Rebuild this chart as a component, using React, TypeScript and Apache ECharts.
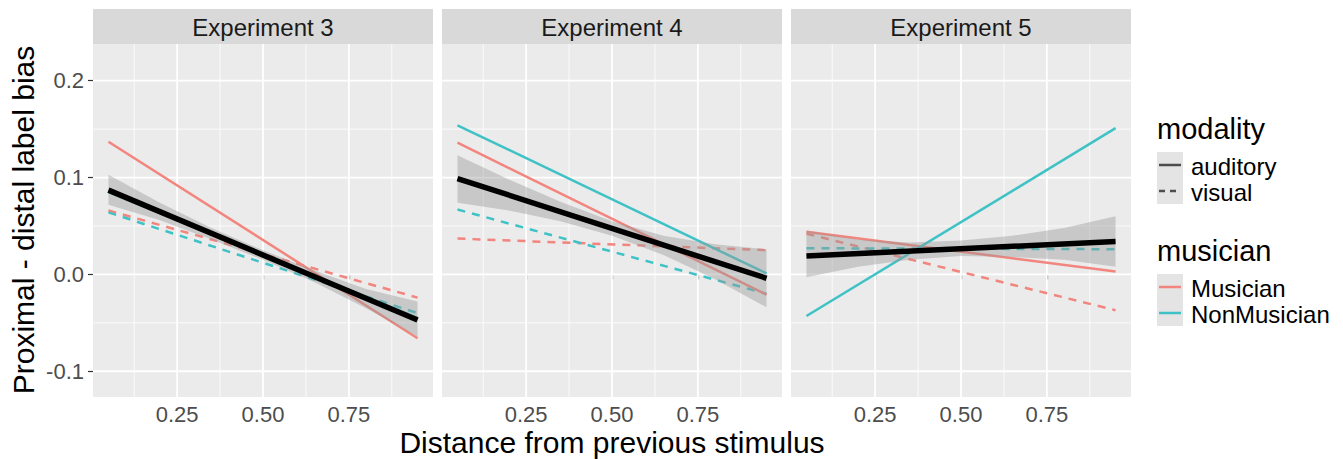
import React, { useEffect, useRef } from "react";
import * as echarts from "echarts";

const panelTitles = ["Experiment 3", "Experiment 4", "Experiment 5"];
const xTicks = [0.25, 0.5, 0.75];
const xMinor = [0.125, 0.375, 0.625, 0.875];
const yTicks = [-0.1, 0, 0.1, 0.2];
const yMinor = [-0.05, 0.05, 0.15];
const X_MIN = 0.005;
const X_MAX = 0.995;
const Y_MIN = -0.1266;
const Y_MAX = 0.2379;

const lineX = [0.05, 0.95];
// [start, end] per panel
const musicianAuditory = [[0.137, -0.066], [0.136, -0.021], [0.044, 0.003]];
const nonMusicianAuditory = [[0.085, -0.045], [0.154, 0.001], [-0.043, 0.151]];
const musicianVisual = [[0.066, -0.024], [0.037, 0.025], [0.042, -0.037]];
const nonMusicianVisual = [[0.064, -0.040], [0.067, -0.020], [0.027, 0.026]];
const overallFit = [[0.087, -0.047], [0.099, -0.004], [0.019, 0.034]];

const ribbonX = [0.05, 0.2, 0.35, 0.5, 0.65, 0.8, 0.95];
const ribbonLo = [
  [0.072, 0.056, 0.036, 0.015, -0.008, -0.035, -0.064],
  [0.074, 0.066, 0.055, 0.040, 0.020, -0.005, -0.034],
  [-0.003, 0.008, 0.015, 0.019, 0.018, 0.015, 0.008],
];
const ribbonHi = [
  [0.103, 0.074, 0.048, 0.025, 0.004, -0.015, -0.028],
  [0.123, 0.098, 0.075, 0.055, 0.040, 0.031, 0.026],
  [0.045, 0.036, 0.033, 0.035, 0.040, 0.048, 0.060],
];

const RED = "#F2857D";
const CYAN = "#3FC2C5";
const FONT = "'Liberation Sans', Arial, sans-serif";

const gridLefts = [93, 442, 791];
const GRID_W = 340;
const GRID_TOP = 44;
const GRID_H = 353;

export default function App() {
  const ref = useRef<HTMLDivElement>(null);

  useEffect(() => {
    if (!ref.current) return;
    const chart = echarts.init(ref.current, undefined, { renderer: "svg" });

    const grids: any[] = [];
    const xAxes: any[] = [];
    const yAxes: any[] = [];
    const series: any[] = [];
    const graphics: any[] = [];

    panelTitles.forEach((title, i) => {
      grids.push({
        left: gridLefts[i],
        top: GRID_TOP,
        width: GRID_W,
        height: GRID_H,
        show: true,
        backgroundColor: "#EBEBEB",
        borderWidth: 0,
      });
      xAxes.push({
        type: "value",
        gridIndex: i,
        min: X_MIN,
        max: X_MAX,
        splitLine: { show: false },
        axisLine: { show: false },
        axisTick: {
          show: true,
          customValues: xTicks,
          length: 5,
          lineStyle: { color: "#333333", width: 1.2 },
        },
        axisLabel: {
          customValues: xTicks,
          formatter: (v: number) => v.toFixed(2),
          fontSize: 22,
          color: "#4D4D4D",
          fontFamily: FONT,
          margin: 6,
        },
      });
      yAxes.push({
        type: "value",
        gridIndex: i,
        min: Y_MIN,
        max: Y_MAX,
        splitLine: { show: false },
        axisLine: { show: false },
        axisTick: {
          show: i === 0,
          customValues: yTicks,
          length: 5,
          lineStyle: { color: "#333333", width: 1.2 },
        },
        axisLabel: {
          show: i === 0,
          customValues: yTicks,
          formatter: (v: number) => v.toFixed(1),
          fontSize: 22,
          color: "#4D4D4D",
          fontFamily: FONT,
          margin: 9,
        },
      });

      // grid lines
      const gl = (data: number[][], w: number) => ({
        type: "line",
        xAxisIndex: i,
        yAxisIndex: i,
        data,
        symbol: "none",
        silent: true,
        lineStyle: { color: "#FFFFFF", width: w },
        z: 1,
      });
      xMinor.forEach((x) => series.push(gl([[x, Y_MIN], [x, Y_MAX]], 0.8)));
      yMinor.forEach((y) => series.push(gl([[X_MIN, y], [X_MAX, y]], 0.8)));
      xTicks.forEach((x) => series.push(gl([[x, Y_MIN], [x, Y_MAX]], 1.8)));
      yTicks.forEach((y) => series.push(gl([[X_MIN, y], [X_MAX, y]], 1.8)));

      const fit = (vals: number[][], color: string, width: number, type: any, name: string) => ({
        type: "line",
        name,
        xAxisIndex: i,
        yAxisIndex: i,
        data: [
          [lineX[0], vals[i][0]],
          [lineX[1], vals[i][1]],
        ],
        symbol: "none",
        silent: true,
        lineStyle: { color, width, type, cap: "butt" },
        z: 2,
      });
      series.push(fit(musicianVisual, RED, 2.5, [8, 7], "Musician visual"));
      series.push(fit(nonMusicianVisual, CYAN, 2.5, [8, 7], "NonMusician visual"));
      series.push(fit(musicianAuditory, RED, 2.5, "solid", "Musician auditory"));
      series.push(fit(nonMusicianAuditory, CYAN, 2.5, "solid", "NonMusician auditory"));

      series.push({
        type: "custom",
        xAxisIndex: i,
        yAxisIndex: i,
        silent: true,
        z: 3,
        data: [[ribbonX[0], ribbonLo[i][0]]],
        renderItem: (_p: any, api: any) => {
          const pts: number[][] = [];
          ribbonX.forEach((x, k) => pts.push(api.coord([x, ribbonHi[i][k]])));
          for (let k = ribbonX.length - 1; k >= 0; k--) pts.push(api.coord([ribbonX[k], ribbonLo[i][k]]));
          return {
            type: "polygon",
            shape: { points: pts },
            style: { fill: "#999999", opacity: 0.42 },
          };
        },
      });
      series.push({ ...fit(overallFit, "#000000", 5.5, "solid", "overall"), z: 4 });

      // strip
      graphics.push({
        type: "rect",
        left: gridLefts[i],
        top: 9,
        shape: { width: GRID_W, height: 35 },
        style: { fill: "#D9D9D9" },
        silent: true,
      });
      graphics.push({
        type: "text",
        x: gridLefts[i] + GRID_W / 2,
        y: 27,
        style: {
          text: title,
          fill: "#1A1A1A",
          fontSize: 24,
          fontFamily: FONT,
          align: "center",
          verticalAlign: "middle",
        },
        silent: true,
      });
    });

    // axis titles
    graphics.push({
      type: "text",
      x: 612,
      y: 442,
      style: {
        text: "Distance from previous stimulus",
        fill: "#000000",
        fontSize: 30,
        fontFamily: FONT,
        align: "center",
        verticalAlign: "middle",
      },
      silent: true,
    });
    graphics.push({
      type: "text",
      x: 23,
      y: 220,
      rotation: Math.PI / 2,
      style: {
        text: "Proximal - distal label bias",
        fill: "#000000",
        fontSize: 30,
        fontFamily: FONT,
        align: "center",
        verticalAlign: "middle",
      },
      silent: true,
    });

    // legend
    const LX = 1157;
    const legendTitle = (text: string, y: number) => ({
      type: "text",
      x: LX,
      y,
      style: { text, fill: "#000000", fontSize: 29, fontFamily: FONT, align: "left", verticalAlign: "middle" },
      silent: true,
    });
    const legendLabel = (text: string, y: number) => ({
      type: "text",
      x: 1191,
      y,
      style: { text, fill: "#000000", fontSize: 24, fontFamily: FONT, align: "left", verticalAlign: "middle" },
      silent: true,
    });
    const keyBox = (y: number) => ({
      type: "rect",
      x: LX,
      y,
      shape: { width: 26, height: 26 },
      style: { fill: "#E4E4E4" },
      silent: true,
    });
    const keyLine = (y: number, color: string, dash: any) => ({
      type: "line",
      shape: { x1: LX + 2, y1: y, x2: LX + 24, y2: y },
      style: { stroke: color, lineWidth: 2.5, lineDash: dash },
      silent: true,
    });
    graphics.push(legendTitle("modality", 129));
    graphics.push(keyBox(152));
    graphics.push(keyBox(178));
    graphics.push(keyLine(165, "#4D4D4D", null));
    graphics.push(keyLine(191, "#4D4D4D", [6, 5]));
    graphics.push(legendLabel("auditory", 166));
    graphics.push(legendLabel("visual", 192));

    graphics.push(legendTitle("musician", 251));
    graphics.push(keyBox(274));
    graphics.push(keyBox(300));
    graphics.push(keyLine(287, RED, null));
    graphics.push(keyLine(313, CYAN, null));
    graphics.push(legendLabel("Musician", 288));
    graphics.push(legendLabel("NonMusician", 314));

    chart.setOption({
      animation: false,
      backgroundColor: "#FFFFFF",
      textStyle: { fontFamily: FONT },
      grid: grids,
      xAxis: xAxes,
      yAxis: yAxes,
      series,
      graphic: graphics,
    });

    return () => chart.dispose();
  }, []);

  return (
    <div
      ref={ref}
      style={{ position: "absolute", left: 0, top: 0, width: 1343, height: 459 }}
    />
  );
}
